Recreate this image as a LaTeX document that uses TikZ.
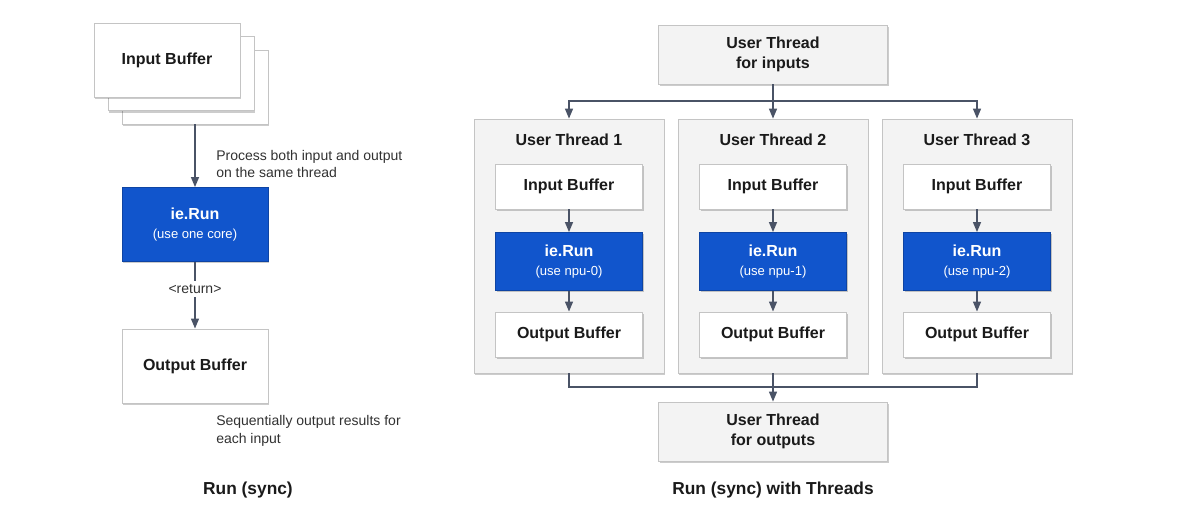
\documentclass[tikz,border=0pt]{standalone}
\usepackage{fontspec}
\setmainfont{Liberation Sans}
\usetikzlibrary{arrows.meta, positioning, shadows}

\definecolor{runblue}{HTML}{1155CC}
\definecolor{threadgray}{HTML}{F3F3F3}
\definecolor{edgegray}{HTML}{C4C4C4}
\definecolor{linkgray}{HTML}{4A5366}
\definecolor{inkblack}{HTML}{1A1A1A}

\begin{document}
\begin{tikzpicture}[
    x=0.75pt, y=-0.75pt,
    box/.style={
        draw=edgegray,
        line width=0.6pt,
        fill=white,
        align=center,
        font=\fontsize{12}{14.5}\selectfont\bfseries,
        text=inkblack,
        inner sep=2pt,
        drop shadow={shadow xshift=0.8pt, shadow yshift=-1.5pt, fill=black, opacity=0.2}
    },
    buf/.style={box, minimum width=110.25pt, minimum height=33.75pt},
    bigbuf/.style={box, minimum width=109.5pt, minimum height=55.5pt},
    runbox/.style={box, fill=runblue, draw=runblue!80!black, text=white},
    tbox/.style={box, fill=threadgray, minimum width=171.75pt, minimum height=44.25pt},
    threadbox/.style={box, fill=threadgray, minimum width=142.5pt, minimum height=190.5pt},
    titletext/.style={font=\fontsize{12}{14.5}\selectfont\bfseries, text=inkblack},
    notetext/.style={font=\fontsize{10.5}{13}\selectfont, text=inkblack!90, align=left, inner sep=0pt},
    captext/.style={font=\fontsize{13}{15}\selectfont\bfseries, text=inkblack},
    link/.style={draw=linkgray, line width=1pt},
    >={Triangle[length=7.5pt,width=6pt]}
]
\useasboundingbox (0,0) rectangle (1200,511);

% Run (sync)
\node[bigbuf] (inbufC) at (195,87) {};
\node[bigbuf] (inbufB) at (181,73.5) {};
\node[bigbuf] (inbuf) at (167,60) {Input Buffer};

\node[runbox, minimum width=109.5pt, minimum height=55.5pt, below=47pt of inbufC] (runL)
{ie.Run\\{\mdseries\fontsize{9.8}{15}\selectfont (use one core)}};

\node[bigbuf, below=50pt of runL] (outL) {Output Buffer};

\draw[link,->] (inbufC) -- (runL);
\draw[link,->] (runL) -- node[pos=0.41, fill=white, notetext, inner sep=2.5pt]{<return>} (outL);

\node[notetext, anchor=west] (noteproc) at (216,164) {Process both input and output\\on the same thread};
\node[notetext, anchor=west] (noteseq) at (216,431) {Sequentially output results for\\each input};
\node[captext] (capL) at (248,490) {Run (sync)};

% Run (sync) with Threads
\node[tbox] (tin) at (773,54.5) {User Thread\\for inputs};

\foreach \i/\x in {1/569,2/773,3/977}{
    \pgfmathtruncatemacro{\npu}{\i-1}
    \node[threadbox] (th\i) at (\x,246) {};
    \node[titletext] (tt\i) at (\x,140) {User Thread \i};
    \node[buf] (ib\i) at (\x,186.5) {Input Buffer};
    \node[runbox, minimum width=110.25pt, minimum height=43.5pt, below=17pt of ib\i] (run\i)
    {ie.Run\\{\mdseries\fontsize{9.8}{14}\selectfont (use npu-\npu)}};
    \node[buf, below=15.5pt of run\i] (ob\i) {Output Buffer};
    \draw[link,->] (ib\i) -- (run\i);
    \draw[link,->] (run\i) -- (ob\i);
}

\node[tbox] (tout) at (773,431.5) {User Thread\\for outputs};

\coordinate (splitin) at (773,101);
\coordinate (joinout) at (773,387);

\draw[link,->] (tin) -- (th2.north);
\draw[link,->] (splitin) -| (th1.north);
\draw[link,->] (splitin) -| (th3.north);

\draw[link] (th1.south) |- (joinout);
\draw[link] (th3.south) |- (joinout);
\draw[link,->] (th2.south) -- (tout.north);

\node[captext] (capR) at (773,490) {Run (sync) with Threads};

\end{tikzpicture}
\end{document}
